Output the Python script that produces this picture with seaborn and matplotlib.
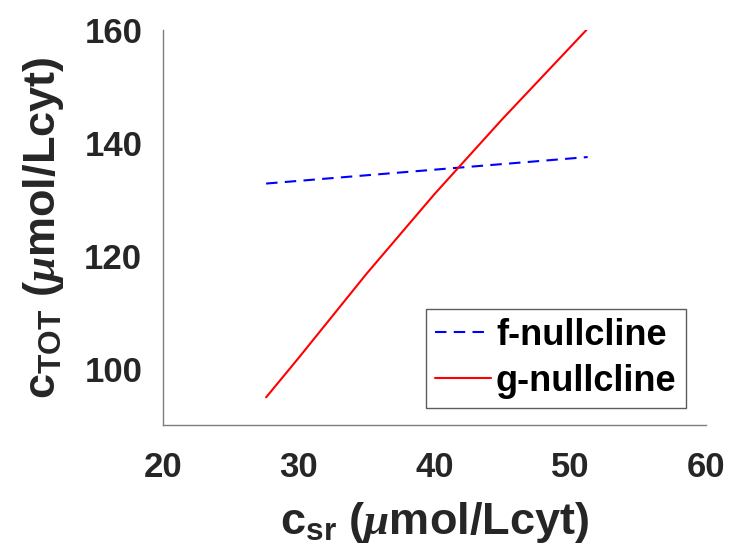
import seaborn as sns
import matplotlib.pyplot as plt
import pandas as pd

# данные
f_csr = [27.6, 51.3]
f_ctot = [132.8, 137.5]
g_csr = [27.6, 30.0, 35.0, 40.0, 45.0, 51.2]
g_ctot = [94.9, 101.9, 116.8, 130.9, 144.2, 160.0]

sns.set_style('white')
plt.rcParams['font.family'] = ['Liberation Sans', 'DejaVu Sans']
plt.rcParams['font.weight'] = 'bold'
plt.rcParams['mathtext.fontset'] = 'custom'
plt.rcParams['mathtext.rm'] = 'Liberation Sans:bold'
plt.rcParams['mathtext.bf'] = 'Liberation Sans:bold'
plt.rcParams['mathtext.it'] = 'Liberation Serif:italic'

df = pd.concat([
    pd.DataFrame({'csr': f_csr, 'ctot': f_ctot, 'curve': 'f-nullcline'}),
    pd.DataFrame({'csr': g_csr, 'ctot': g_ctot, 'curve': 'g-nullcline'}),
])

fig = plt.figure(figsize=(7.29, 5.58), dpi=100)
ax = fig.add_axes([0.2236, 0.2384, 0.7444, 0.7076])

sns.lineplot(data=df, x='csr', y='ctot', hue='curve', style='curve',
             palette={'f-nullcline': '#0000ff', 'g-nullcline': '#ff0000'},
             dashes={'f-nullcline': (5.5, 3.5), 'g-nullcline': ''},
             linewidth=1.5, sort=False, estimator=None, ax=ax)

ax.set_xlim(20, 60)
ax.set_ylim(90, 160)
ax.set_xticks([20, 30, 40, 50, 60])
ax.set_yticks([100, 120, 140, 160])

# оформление осей в стиле MATLAB
sns.despine(ax=ax)
for s in ['left', 'bottom']:
    ax.spines[s].set_color('#7f7f7f')
    ax.spines[s].set_linewidth(1.0)
ax.tick_params(direction='in', length=6, width=1.0, color='#7f7f7f',
               labelsize=25, labelcolor='#262626')
ax.tick_params(axis='x', pad=19)
ax.tick_params(axis='y', pad=15)
for lbl in ax.get_xticklabels() + ax.get_yticklabels():
    lbl.set_fontweight('bold')

ax.set_xlabel(r'c$_{\mathbf{sr}}$ ($\mu$mol/Lcyt)', fontsize=32.5,
              fontweight='bold', color='#262626', labelpad=11)
ax.set_ylabel(r'c$_{\mathbf{TOT}}$ ($\mu$mol/Lcyt)', fontsize=32.5,
              fontweight='bold', color='#262626', labelpad=13)

leg = ax.legend(loc='lower right', bbox_to_anchor=(0.963, 0.043),
                fontsize=26, frameon=True, fancybox=False,
                handlelength=1.55, handletextpad=0.15, borderpad=0.25,
                labelspacing=0.3, borderaxespad=0)
leg.get_frame().set_edgecolor('#333333')
leg.get_frame().set_linewidth(1.0)
for t in leg.get_texts():
    t.set_fontweight('bold')
    t.set_color('black')

fig.savefig('out.png', dpi=100)
